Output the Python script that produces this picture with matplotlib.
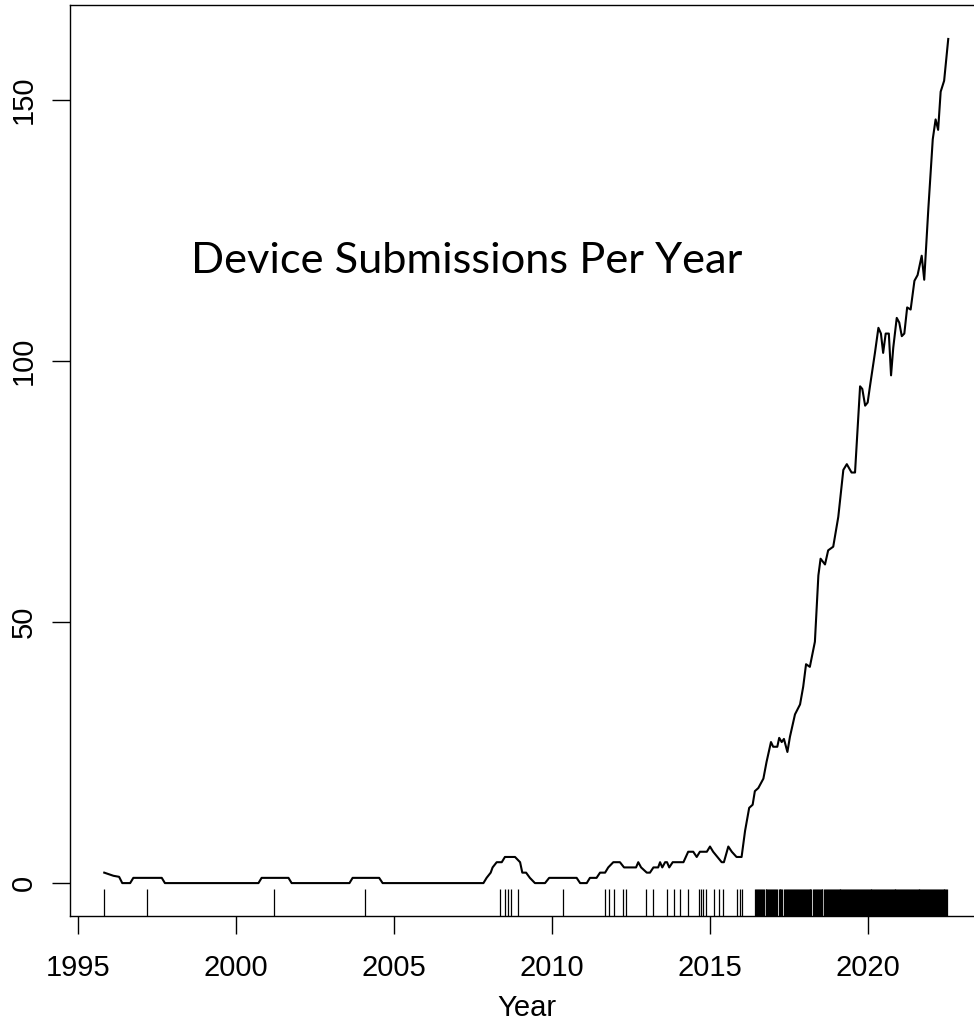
import matplotlib
matplotlib.use("Agg")
import matplotlib.pyplot as plt
import numpy as np

# line vertices (year, submissions in the surrounding year)
line_years = [1995.84, 1996.13, 1996.31, 1996.41, 1996.66, 1996.76, 1997.66, 1997.76,
              2000.72, 2000.82, 2001.67, 2001.77, 2003.60, 2003.70, 2004.54, 2004.65,
              2007.84, 2007.94, 2008.07, 2008.13, 2008.26, 2008.42, 2008.52, 2008.84,
              2009.00, 2009.07, 2009.19, 2009.31, 2009.47, 2009.79, 2009.92, 2010.79,
              2010.90, 2011.11, 2011.21, 2011.42, 2011.53, 2011.69, 2011.79, 2011.95,
              2012.16, 2012.29, 2012.67, 2012.74, 2012.83, 2013.01, 2013.11, 2013.22,
              2013.37, 2013.43, 2013.50, 2013.59, 2013.65, 2013.72, 2013.83, 2014.17,
              2014.32, 2014.48, 2014.59, 2014.69, 2014.91, 2015.01, 2015.11, 2015.38,
              2015.45, 2015.59, 2015.70, 2015.85, 2016.01, 2016.12, 2016.25, 2016.36,
              2016.43, 2016.54, 2016.70, 2016.80, 2016.94, 2017.01, 2017.14, 2017.20,
              2017.28, 2017.35, 2017.46, 2017.54, 2017.70, 2017.86, 2017.96, 2018.05,
              2018.17, 2018.33, 2018.44, 2018.51, 2018.65, 2018.75, 2018.91, 2019.07,
              2019.23, 2019.34, 2019.49, 2019.60, 2019.76, 2019.83, 2019.92, 2020.00,
              2020.07, 2020.23, 2020.34, 2020.42, 2020.49, 2020.57, 2020.67, 2020.74,
              2020.81, 2020.92, 2021.00, 2021.08, 2021.16, 2021.25, 2021.36, 2021.48,
              2021.58, 2021.71, 2021.79, 2021.92, 2022.06, 2022.15, 2022.23, 2022.31,
              2022.42, 2022.55]
line_counts = [2.0, 1.4, 1.2, 0, 0, 1, 1, 0,
               0, 1, 1, 0, 0, 1, 1, 0,
               0, 1, 2, 3, 4, 4, 5, 5,
               4, 2, 2, 1, 0, 0, 1, 1,
               0, 0, 1, 1, 2, 2, 3, 4,
               4, 3, 3, 4, 3, 2, 2, 3,
               3, 4, 3, 4, 4, 3, 4, 4,
               6, 6, 5, 6, 6, 7, 6, 4,
               4, 7, 6, 5, 5, 10, 14.4, 15,
               17.6, 18.2, 20, 23.2, 27, 26.1, 26.1, 27.8,
               27, 27.6, 25.1, 28, 32.3, 34.2, 37.6, 41.9,
               41.4, 46.2, 58.9, 62.1, 61, 63.7, 64.4, 70.1,
               79.1, 80.2, 78.6, 78.6, 95.1, 94.6, 91.4, 92,
               95, 101.5, 106.3, 105.2, 101.5, 105.2, 105.2, 97.2,
               102.5, 108.2, 107.3, 104.7, 105.2, 110.2, 109.8, 115.3,
               116.4, 120.1, 115.5, 129.1, 142.4, 146.2, 144.2, 151.5,
               153.6, 161.6]

# submission dates (rug)
rug_early = [1995.84, 1997.18, 2001.20, 2004.10, 2008.36, 2008.52, 2008.62, 2008.70,
             2008.92, 2010.36, 2011.70, 2011.81, 2011.98, 2012.27, 2012.36, 2012.99,
             2013.22, 2013.64, 2013.88, 2014.06, 2014.30, 2014.65, 2014.72, 2014.78,
             2014.88, 2015.15, 2015.29, 2015.43, 2015.85, 2015.97, 2016.01]
rug_2016 = [2016.44, 2016.47, 2016.50, 2016.54, 2016.57, 2016.60, 2016.63, 2016.67,
            2016.70, 2016.73, 2016.77, 2016.79, 2016.82, 2016.86, 2016.89, 2016.92,
            2016.95, 2016.98]
rug_2017 = [2017.01, 2017.04, 2017.07, 2017.11, 2017.14, 2017.18, 2017.21, 2017.24,
            2017.27, 2017.30, 2017.34, 2017.37, 2017.40, 2017.44, 2017.47, 2017.50,
            2017.53, 2017.56, 2017.60, 2017.63, 2017.66, 2017.69, 2017.72, 2017.76,
            2017.79, 2017.82, 2017.85, 2017.88, 2017.91, 2017.95, 2017.98]
rug_2018 = [2018.01, 2018.04, 2018.07, 2018.10, 2018.13, 2018.16, 2018.19, 2018.22,
            2018.27, 2018.30, 2018.33, 2018.36, 2018.39, 2018.42, 2018.45, 2018.48,
            2018.51, 2018.54, 2018.57, 2018.62, 2018.65, 2018.68, 2018.72, 2018.75,
            2018.78, 2018.81, 2018.84, 2018.87, 2018.90, 2018.93, 2018.96, 2018.99]
rug_2019 = [2019.02, 2019.05, 2019.08, 2019.11, 2019.14, 2019.17, 2019.20, 2019.23,
            2019.26, 2019.29, 2019.32, 2019.36, 2019.39, 2019.42, 2019.45, 2019.48,
            2019.51, 2019.54, 2019.57, 2019.60, 2019.63, 2019.66, 2019.69, 2019.72,
            2019.76, 2019.79, 2019.82, 2019.85, 2019.88, 2019.91, 2019.94, 2019.97]
rug_2020 = [2020.00, 2020.03, 2020.06, 2020.09, 2020.12, 2020.15, 2020.18, 2020.21,
            2020.24, 2020.27, 2020.30, 2020.33, 2020.36, 2020.40, 2020.43, 2020.46,
            2020.49, 2020.52, 2020.55, 2020.58, 2020.61, 2020.64, 2020.67, 2020.70,
            2020.73, 2020.76, 2020.79, 2020.82, 2020.85, 2020.88, 2020.91, 2020.94,
            2020.97]
rug_2021 = [2021.00, 2021.03, 2021.06, 2021.09, 2021.12, 2021.15, 2021.18, 2021.21,
            2021.24, 2021.27, 2021.30, 2021.34, 2021.37, 2021.40, 2021.43, 2021.46,
            2021.49, 2021.52, 2021.55, 2021.58, 2021.61, 2021.64, 2021.67, 2021.70,
            2021.73, 2021.76, 2021.79, 2021.83, 2021.86, 2021.89, 2021.92, 2021.95,
            2021.98]
rug_2022 = [2022.01, 2022.04, 2022.07, 2022.10, 2022.13, 2022.16, 2022.19, 2022.22,
            2022.25, 2022.28, 2022.31, 2022.34, 2022.37, 2022.40, 2022.43, 2022.46,
            2022.49, 2022.51]

x_ticks = [1995, 2000, 2005, 2010, 2015, 2020]
y_ticks = [0, 50, 100, 150]


def main():
    plt.rcParams['font.family'] = ['Liberation Sans', 'DejaVu Sans']
    fig = plt.figure(figsize=(9.74, 10.25), dpi=100)
    ax = fig.add_axes([70 / 974, 1 - 916 / 1025, 913 / 974, 911 / 1025])

    ax.plot(line_years, line_counts, color='black', lw=1.5)

    rug = rug_early + rug_2016 + rug_2017 + rug_2018 + rug_2019 + rug_2020 + rug_2021 + rug_2022
    ax.vlines(rug, 0, 0.03, transform=ax.get_xaxis_transform(), color='black', lw=0.9)

    ax.set_xlim(1994.756, 2023.65)
    ax.set_ylim(-6.3, 168.1)
    ax.set_xticks(x_ticks)
    ax.set_yticks(y_ticks)
    ax.set_yticklabels([str(v) for v in y_ticks], rotation=90, va='center')
    ax.tick_params(axis='both', direction='out', length=13, width=1.0, labelsize=21, color='black')
    ax.tick_params(axis='x', pad=14)
    ax.tick_params(axis='y', pad=10)
    for s in ax.spines.values():
        s.set_linewidth(1.0)
    ax.set_xlabel('Year', fontsize=21, labelpad=9)

    ax.text(2007.3, 119, 'Device Submissions Per Year', fontsize=31.2, family='Lato',
            ha='center', va='center')

    fig.savefig('out.png', dpi=100)


if __name__ == "__main__":
    main()
